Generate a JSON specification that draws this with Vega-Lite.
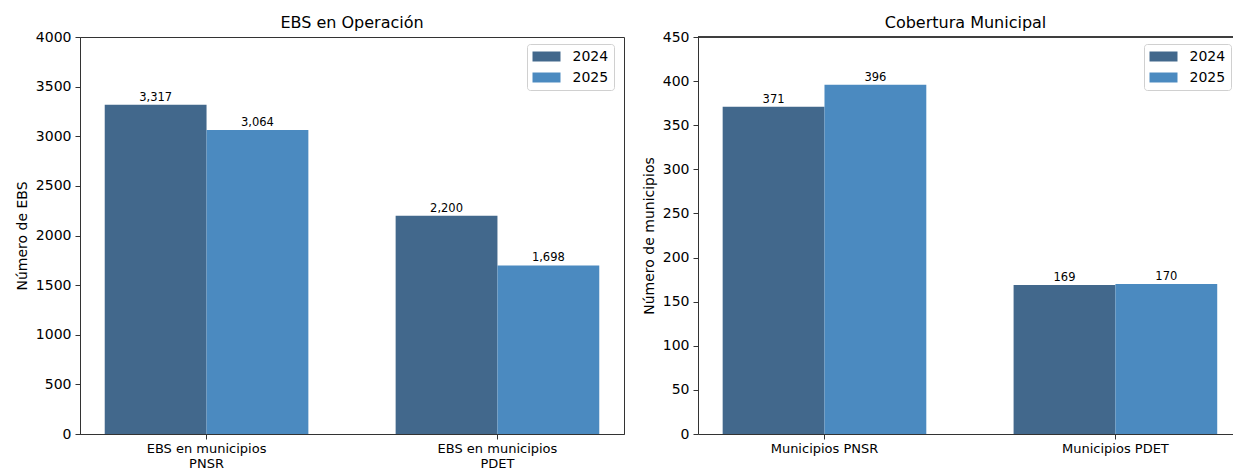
{
  "$schema": "https://vega.github.io/schema/vega-lite/v6.json",
  "autosize": {"type": "pad"},
  "padding": {"left": 14, "top": 14, "right": 0, "bottom": 0},
  "background": "white",
  "config": {
    "font": "DejaVu Sans",
    "view": {"stroke": null},
    "title": {"fontSize": 16, "fontWeight": "normal", "color": "#000", "offset": -1, "baseline": "bottom", "anchor": "middle"},
    "axis": {
      "domainColor": "#333", "tickColor": "#333", "tickSize": 5, "domainWidth": 1,
      "labelColor": "#000", "titleColor": "#000", "labelFontSize": 14, "titleFontSize": 14,
      "titleFontWeight": "normal", "grid": false, "labelPadding": 4
    },
    "legend": {
      "orient": "none", "title": null, "labelFontSize": 14, "labelColor": "#000",
      "symbolType": "M-2,-0.714H2V0.714H-2Z", "symbolSize": 196, "symbolStrokeWidth": 0,
      "symbolOffset": 7, "labelOffset": 19, "padding": 5.5, "rowPadding": 7, "fillColor": "white",
      "strokeColor": "#d0d0d0", "cornerRadius": 3
    }
  },
  "datasets": {
    "ebs": [
      {"grupo": "EBS en municipios PNSR", "anio": "2024", "valor": 3317},
      {"grupo": "EBS en municipios PNSR", "anio": "2025", "valor": 3064},
      {"grupo": "EBS en municipios PDET", "anio": "2024", "valor": 2200},
      {"grupo": "EBS en municipios PDET", "anio": "2025", "valor": 1698}
    ],
    "muni": [
      {"grupo": "Municipios PNSR", "anio": "2024", "valor": 371},
      {"grupo": "Municipios PNSR", "anio": "2025", "valor": 396},
      {"grupo": "Municipios PDET", "anio": "2024", "valor": 169},
      {"grupo": "Municipios PDET", "anio": "2025", "valor": 170}
    ]
  },
  "bounds": "flush",
  "spacing": 74,
  "resolve": {"legend": {"color": "independent"}},
  "hconcat": [
    {
      "title": "EBS en Operación",
      "width": 544,
      "height": 397,
      "view": {"stroke": "#333", "strokeWidth": 1},
      "data": {"name": "ebs"},
      "encoding": {
        "x": {
          "field": "grupo", "type": "nominal", "sort": null, "title": null,
          "scale": {"paddingInner": 0.3, "paddingOuter": 0.085, "align": 0.5},
          "axis": {"labelAngle": 0, "labelFontSize": 13, "labelPadding": 3, "labelLineHeight": 15,
                   "labelExpr": "[slice(datum.label, 0, 17), slice(datum.label, 18)]"}
        },
        "xOffset": {"field": "anio", "type": "nominal", "scale": {"paddingInner": 0, "paddingOuter": 0}},
        "y": {
          "field": "valor", "type": "quantitative", "title": "Número de EBS",
          "scale": {"domain": [0, 4000], "nice": false},
          "axis": {"values": [0, 500, 1000, 1500, 2000, 2500, 3000, 3500, 4000], "format": "d", "titlePadding": 6}
        }
      },
      "layer": [
        {
          "mark": {"type": "bar"},
          "encoding": {
            "color": {
              "field": "anio", "type": "nominal",
              "scale": {"domain": ["2024", "2025"], "range": ["#42688C", "#4B8AC0"]},
              "legend": {"legendX": 447, "legendY": 7}
            }
          }
        },
        {
          "mark": {"type": "text", "baseline": "bottom", "dy": -2, "fontSize": 11.5, "color": "#000"},
          "encoding": {"text": {"field": "valor", "type": "quantitative", "format": ","}}
        }
      ]
    },
    {
      "title": "Cobertura Municipal",
      "width": 535,
      "height": 397,
      "data": {"name": "muni"},
      "layer": [
        {
          "mark": {"type": "bar"},
          "encoding": {
            "x": {
              "field": "grupo", "type": "nominal", "sort": null, "title": null,
              "scale": {"paddingInner": 0.3, "paddingOuter": 0.0695, "align": 0.61},
              "axis": {"labelAngle": 0, "labelFontSize": 13, "labelPadding": 3}
            },
            "xOffset": {"field": "anio", "type": "nominal", "scale": {"paddingInner": 0, "paddingOuter": 0}},
            "y": {
              "field": "valor", "type": "quantitative", "title": "Número de municipios",
              "scale": {"domain": [0, 450], "nice": false},
              "axis": {"values": [0, 50, 100, 150, 200, 250, 300, 350, 400, 450], "format": "d", "titlePadding": 6}
            },
            "color": {
              "field": "anio", "type": "nominal",
              "scale": {"domain": ["2024", "2025"], "range": ["#42688C", "#4B8AC0"]},
              "legend": {"legendX": 446, "legendY": 7}
            }
          }
        },
        {
          "mark": {"type": "text", "baseline": "bottom", "dy": -2, "fontSize": 11.5, "color": "#000"},
          "encoding": {
            "x": {"field": "grupo", "type": "nominal", "sort": null},
            "xOffset": {"field": "anio", "type": "nominal"},
            "y": {"field": "valor", "type": "quantitative"},
            "text": {"field": "valor", "type": "quantitative", "format": ","}
          }
        },
        {
          "mark": {"type": "rule", "color": "#333", "strokeWidth": 1},
          "encoding": {"y": {"datum": 450}}
        }
      ]
    }
  ]
}
